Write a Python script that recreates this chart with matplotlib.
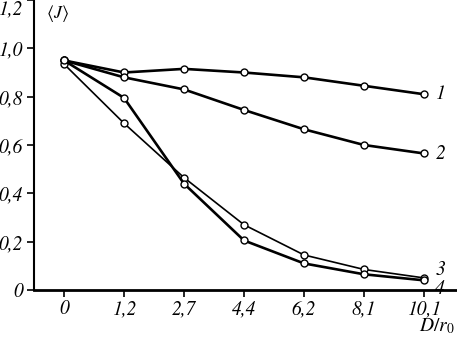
import numpy as np
import matplotlib.pyplot as plt

plt.rcParams['mathtext.fontset'] = 'stix'
plt.rcParams['font.family'] = ['STIXGeneral', 'Liberation Serif', 'DejaVu Serif']

# data
x_labels = ['0', '1,2', '2,7', '4,4', '6,2', '8,1', '10,1']
curve_1 = [0.950, 0.900, 0.915, 0.900, 0.880, 0.845, 0.810]
curve_2 = [0.950, 0.880, 0.830, 0.745, 0.665, 0.600, 0.565]
curve_3 = [0.935, 0.690, 0.465, 0.270, 0.145, 0.085, 0.050]
curve_4 = [0.950, 0.795, 0.440, 0.205, 0.110, 0.065, 0.040]
curve_names = ['1', '2', '3', '4']
y_ticks = [0, 0.2, 0.4, 0.6, 0.8, 1.0, 1.2]
y_labels = ['0', '0,2', '0,4', '0,6', '0,8', '1,0', '1,2']

fig = plt.figure(figsize=(4.57, 3.37), dpi=100)
ax = fig.add_axes([34 / 457, 47 / 337, 1 - 34 / 457, 290 / 337])

pos = np.arange(len(x_labels))
curves = [curve_1, curve_2, curve_3, curve_4]
widths = [1.9, 1.9, 1.2, 1.9]
label_dy = [0.0, 0.0, 0.035, -0.035]

for ys, lw, name, dy in zip(curves, widths, curve_names, label_dy):
    ax.plot(pos, ys, color='black', lw=lw, marker='o', ms=5,
            mfc='white', mec='black', mew=1.0, zorder=3)
    ax.text(pos[-1] + 0.27, ys[-1] + dy, name, fontsize=14, style='italic',
            va='center', ha='center')

ax.set_xlim(-0.5, 6.55)
ax.set_ylim(0, 1.2)
ax.set_xticks(pos)
ax.set_xticklabels(x_labels, style='italic', fontsize=14)
ax.set_yticks(y_ticks)
ax.set_yticklabels(y_labels, style='italic', fontsize=14)
ax.get_yticklabels()[-1].set_va('top')

for s in ['top', 'right']:
    ax.spines[s].set_visible(False)
ax.spines['bottom'].set_linewidth(2.0)
ax.spines['left'].set_linewidth(1.5)
ax.tick_params(axis='x', length=5, width=1.2, pad=2)
ax.tick_params(axis='y', length=5, width=1.2, pad=3)

ax.text(46 / 457, 1 - 13 / 337, r'$\langle J\rangle$', transform=fig.transFigure,
        fontsize=13, va='center', ha='left')
ax.text(419 / 457, 1 - 326 / 337, r'$D/r_0$', transform=fig.transFigure,
        fontsize=14, va='center', ha='left')

plt.savefig('out.png', dpi=100)
